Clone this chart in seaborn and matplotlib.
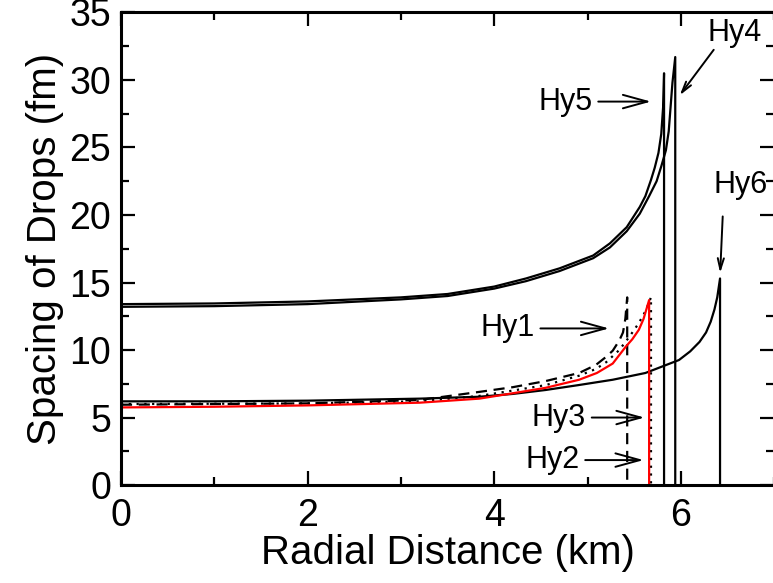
import numpy as np
import pandas as pd
import matplotlib
matplotlib.use("Agg")
import matplotlib.pyplot as plt
import seaborn as sns

# ---- data ----
hy1_x = [0, 1, 2, 3.2, 3.84, 4.2, 4.55, 4.91, 5.09, 5.2, 5.27, 5.34, 5.38, 5.405, 5.425, 5.425]
hy1_y = [5.95, 6.0, 6.05, 6.3, 6.9, 7.25, 7.7, 8.3, 8.9, 9.5, 9.95, 10.7, 11.3, 12.3, 13.9, 0]

hy2_x = [0, 1, 2, 3.2, 3.84, 4.2, 4.55, 4.91, 5.09, 5.2, 5.34, 5.45, 5.54, 5.6, 5.64, 5.68, 5.68]
hy2_y = [6.0, 6.02, 6.05, 6.2, 6.6, 7.0, 7.4, 8.1, 8.6, 9.1, 10.0, 11.0, 11.9, 12.6, 13.2, 13.9, 0]

hy3_x = [0, 1, 2, 3.2, 3.84, 4.2, 4.55, 4.91, 5.1, 5.27, 5.41, 5.48, 5.55, 5.6, 5.63, 5.66, 5.66]
hy3_y = [5.75, 5.8, 5.9, 6.1, 6.4, 6.8, 7.2, 7.8, 8.3, 9.0, 10.25, 10.8, 11.5, 12.3, 13.0, 13.7, 0]

hy4_x = [0, 1, 2, 3, 3.5, 4, 4.34, 4.7, 5.06, 5.24, 5.42, 5.56, 5.66, 5.74, 5.79, 5.84, 5.87, 5.89, 5.91, 5.94, 5.94]
hy4_y = [13.2, 13.25, 13.4, 13.75, 14.0, 14.55, 15.1, 15.85, 16.8, 17.6, 18.8, 20.1, 21.4, 22.5, 23.6, 24.8, 26.2, 28.0, 29.8, 31.7, 0]

hy5_x = [0, 1, 2, 3, 3.5, 4, 4.34, 4.7, 5.06, 5.24, 5.42, 5.56, 5.62, 5.68, 5.72, 5.76, 5.79, 5.81, 5.82, 5.82]
hy5_y = [13.4, 13.45, 13.6, 13.9, 14.15, 14.7, 15.3, 16.05, 17.0, 17.9, 19.1, 20.6, 21.4, 22.6, 23.5, 24.6, 26.0, 28.0, 30.5, 0]

hy6_x = [0, 1, 2, 3.2, 3.84, 4.2, 4.55, 4.9, 5.27, 5.62, 5.98, 6.1, 6.2, 6.27, 6.32, 6.36, 6.39, 6.42, 6.42]
hy6_y = [6.2, 6.2, 6.25, 6.4, 6.54, 6.75, 7.04, 7.4, 7.8, 8.3, 9.26, 9.9, 10.6, 11.3, 12.1, 13.0, 13.9, 15.3, 0]

labels = ["Hy1", "Hy2", "Hy3", "Hy4", "Hy5", "Hy6"]

sns.set_style("ticks")
plt.rcParams['font.family'] = ['Liberation Sans', 'DejaVu Sans']
plt.rcParams['text.color'] = 'black'
plt.rcParams['axes.labelcolor'] = 'black'
plt.rcParams['xtick.color'] = 'black'
plt.rcParams['ytick.color'] = 'black'
plt.rcParams['axes.edgecolor'] = 'black'

fig = plt.figure(figsize=(7.73, 5.83), dpi=100)
ax = fig.add_axes([0.1565, 0.168, 0.845, 0.8106])

def draw(xs, ys, name, color, ls):
    df = pd.DataFrame({"x": xs, "y": ys, "s": name})
    sns.lineplot(data=df, x="x", y="y", sort=False, estimator=None, ax=ax,
                 color=color, linestyle=ls, linewidth=1.6)

draw(hy4_x, hy4_y, "Hy4", "black", "-")
draw(hy5_x, hy5_y, "Hy5", "black", "-")
draw(hy6_x, hy6_y, "Hy6", "black", "-")
draw(hy1_x, hy1_y, "Hy1", "black", (0, (5, 3)))
draw(hy2_x, hy2_y, "Hy2", "black", (0, (1, 2.5)))
draw(hy3_x, hy3_y, "Hy3", "red", "-")

ax.set_xlim(0, 7)
ax.set_ylim(0, 35)
ax.set_xticks([0, 2, 4, 6])
ax.set_xticks([1, 3, 5, 7], minor=True)
ax.set_yticks(np.arange(0, 36, 5))
ax.set_yticks(np.arange(2.5, 35, 5), minor=True)
ax.tick_params(which="both", direction="in", top=True, right=True, width=1.6)
ax.tick_params(which="major", length=10, labelsize=27)
ax.tick_params(which="minor", length=6)
ax.tick_params(axis="x", which="major", pad=9)
ax.tick_params(axis="y", which="major", pad=7)
for s in ax.spines.values():
    s.set_linewidth(2.2)
    s.set_visible(True)
ax.set_xlabel("Radial Distance (km)", fontsize=29, labelpad=0)
ax.set_ylabel("Spacing of Drops (fm)", fontsize=29, labelpad=4)

ap = dict(arrowstyle="->,head_length=0.8,head_width=0.22", color="black", lw=1.4)
afs = 22
ax.annotate(labels[0], xy=(5.26, 11.6), xytext=(4.43, 11.6), fontsize=afs,
            ha="right", va="center", arrowprops=ap)
ax.annotate(labels[1], xy=(5.63, 1.85), xytext=(4.91, 1.85), fontsize=afs,
            ha="right", va="center", arrowprops=ap)
ax.annotate(labels[2], xy=(5.64, 5.0), xytext=(4.98, 5.0), fontsize=afs,
            ha="right", va="center", arrowprops=ap)
ax.annotate("", xy=(5.97, 28.7), xytext=(6.37, 32.4), arrowprops=ap)
ax.text(6.58, 33.5, labels[3], fontsize=afs, ha="center", va="center")
ax.annotate(labels[4], xy=(5.71, 28.4), xytext=(5.05, 28.4), fontsize=afs,
            ha="right", va="center", arrowprops=ap)
ax.annotate("", xy=(6.42, 15.5), xytext=(6.45, 20.1), arrowprops=ap)
ax.text(6.64, 22.2, labels[5], fontsize=afs, ha="center", va="center")

fig.savefig("out.png", dpi=100)
